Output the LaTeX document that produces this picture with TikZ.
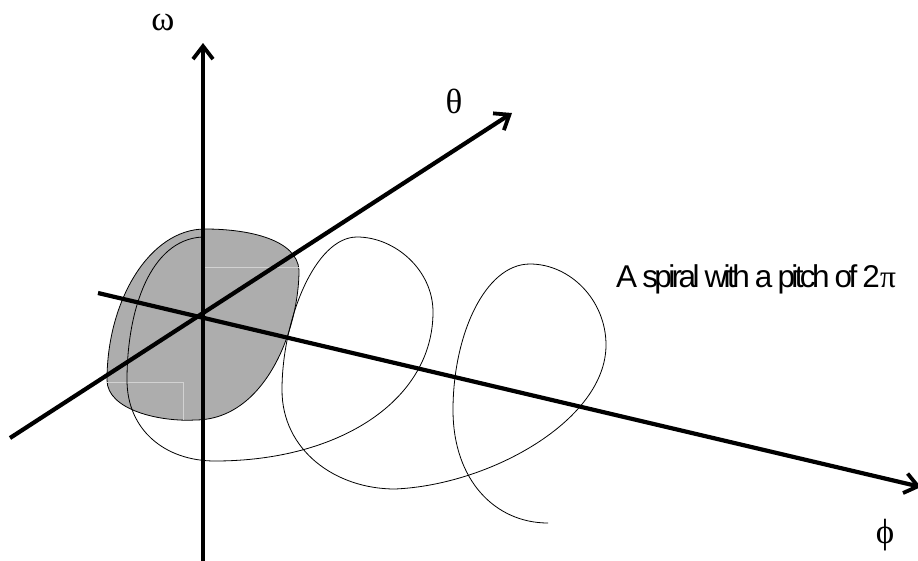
\documentclass[tikz,border=0pt]{standalone}
\usepackage{fontspec}
\setmainfont{Liberation Sans}
\newfontfamily\greekfont{Liberation Serif}
\usetikzlibrary{arrows.meta}
\begin{document}
\begin{tikzpicture}[
  x=1pt, y=-1pt,
  axis/.style={line width=4.2pt, -{Straight Barb[length=13pt,width=20pt,line width=3.8pt]}},
  curve/.style={black, line width=0.8pt},
  seam/.style={gray!35, line width=0.5pt},
  greeklabel/.style={font=\fontsize{35}{35}\selectfont\greekfont, inner sep=0pt},
  spiraltext/.style={font=\fontsize{31.5}{32}\selectfont, inner sep=0pt, anchor=base west}
]
  \useasboundingbox (0,0) rectangle (918,560);
  \coordinate (omegatop) at (203,43);
  \coordinate (omegabot) at (203,562);
  \coordinate (thetatop) at (512,113);
  \coordinate (thetabot) at (10,438);
  \coordinate (phitop) at (921,487);
  \coordinate (phibot) at (98,293);

  %% Shaded patch
  \draw[curve, fill=black!32] (205,229)
    .. controls (250,229) and (297,240) .. (299,270)
    .. controls (299,330) and (265,420) .. (195,420)
    .. controls (160,422) and (107,410) .. (107,380)
    .. controls (107,300) and (150,229) .. (205,229) -- cycle;
  \draw[seam] (205,267) -- (299,267);
  \draw[seam] (107,382) -- (183,382) -- (183,420);

  %% Spiral
  \draw[curve] (202,237)
    .. controls (150,240) and (127,310) .. (127,380)
    .. controls (127,430) and (165,461) .. (215,461)
    .. controls (340,461) and (433,400) .. (433,312)
    .. controls (433,270) and (395,237) .. (357,237)
    .. controls (315,237) and (282,320) .. (282,390)
    .. controls (282,450) and (335,489) .. (395,489)
    .. controls (490,485) and (606,420) .. (606,345)
    .. controls (606,300) and (570,264) .. (530,264)
    .. controls (485,264) and (453,335) .. (453,410)
    .. controls (453,480) and (495,523) .. (548,523);

  %% Axes
  \draw[axis] (omegabot) -- (omegatop);
  \draw[axis] (thetabot) -- (thetatop);
  \draw[axis] (phibot) -- (phitop);

  \node[greeklabel] (omegalabel) at (163,22) {ω};
  \node[greeklabel] (thetalabel) at (454,101) {θ};
  \node[greeklabel] (philabel) at (885,535) {ϕ};
  \node[spiraltext] (spirallabel) at (616,287)
    {\addfontfeature{LetterSpace=-11.5}A spiral with a pitch of 2{\greekfont π}};
\end{tikzpicture}
\end{document}
